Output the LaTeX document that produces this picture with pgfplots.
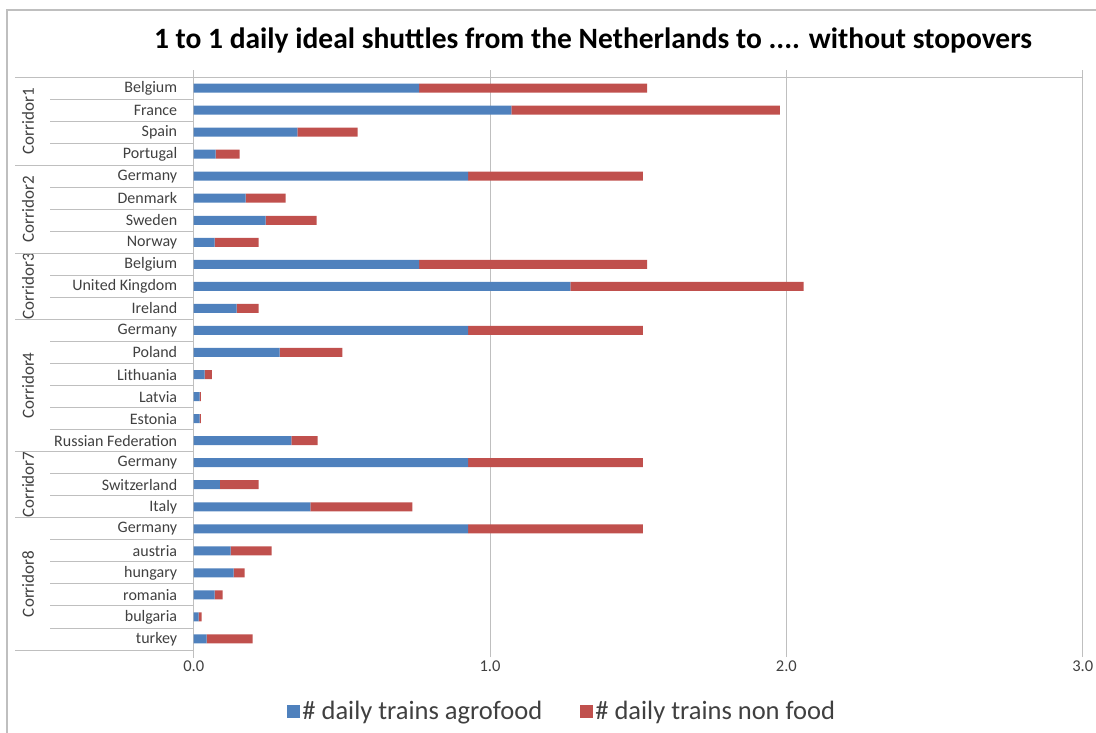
\documentclass[border=0pt]{standalone}
\usepackage{pgfplots}
\pgfplotsset{compat=1.18}
\usetikzlibrary{calc}
\usepackage{fontspec}
\setmainfont{Carlito}
\definecolor{cblue}{HTML}{4F81BD}
\definecolor{cred}{HTML}{C0504D}
\definecolor{lgray}{HTML}{BFBFBF}
\definecolor{tgray}{HTML}{404040}
\begin{document}
\begin{tikzpicture}[x=1pt,y=1pt]
\useasboundingbox (0,0) rectangle (1096,-733);
\draw[lgray,line width=1.2pt] (7,-733) -- (7,-10) -- (1096,-10);
\node[font=\fontsize{29.5}{33}\selectfont\bfseries] at (593,-40) {1 to 1 daily ideal shuttles from the Netherlands to .... without stopovers};
\begin{axis}[
  at={(193.7pt,-77pt)}, anchor=north west,
  scale only axis, width=889pt, height=573pt,
  xbar stacked, bar width=9pt,
  xmin=0, xmax=3, ymin=0.5, ymax=26.5, y dir=reverse,
  axis line style={draw=none},
  xtick={0,1,2,3},
  xticklabels={0.0,1.0,2.0,3.0},
  xmajorgrids, grid style={lgray, line width=0.9pt},
  xtick style={lgray, line width=0.9pt}, major tick length=7pt, tick align=outside,
  x tick label style={font=\fontsize{16.5}{18}\selectfont, text=tgray},
  ytick={1,...,26},
  ytick style={draw=none},
  yticklabels={Belgium,France,Spain,Portugal,Germany,Denmark,Sweden,Norway,Belgium,United Kingdom,Ireland,Germany,Poland,Lithuania,Latvia,Estonia,Russian Federation,Germany,Switzerland,Italy,Germany,austria,hungary,romania,bulgaria,turkey},
  y tick label style={font=\fontsize{16}{18}\selectfont, text=tgray, xshift=-6pt},
  clip=false,
  legend columns=2,
  legend style={at={(0.4146,-0.1065)}, anchor=center, draw=none, font=\fontsize{26.5}{29}\selectfont, text=tgray,
    /tikz/every even column/.append style={column sep=36pt}},
  legend image code/.code={\fill[#1] (0pt,-6.5pt) rectangle (13pt,6.5pt);},
]
\addplot[fill=cblue, draw=none] coordinates {
(0.761,1) (1.072,2) (0.350,3) (0.074,4)
(0.926,5) (0.175,6) (0.243,7) (0.071,8)
(0.761,9) (1.271,10) (0.145,11)
(0.926,12) (0.290,13) (0.037,14) (0.020,15) (0.020,16) (0.330,17)
(0.926,18) (0.088,19) (0.394,20)
(0.926,21) (0.125,22) (0.135,23) (0.071,24) (0.017,25) (0.044,26)};
\addlegendentry{\# daily trains agrofood}
\addplot[fill=cred, draw=none] coordinates {
(0.769,1) (0.906,2) (0.203,3) (0.081,4)
(0.590,5) (0.135,6) (0.172,7) (0.148,8)
(0.769,9) (0.787,10) (0.074,11)
(0.590,12) (0.212,13) (0.024,14) (0.004,15) (0.004,16) (0.088,17)
(0.590,18) (0.131,19) (0.344,20)
(0.590,21) (0.138,22) (0.037,23) (0.027,24) (0.010,25) (0.155,26)};
\addlegendentry{\# daily trains non food}
% frame lines of the plot
\draw[lgray, line width=0.9pt] ($(axis cs:0,0.5)+(-178.7pt,0pt)$) -- (axis cs:3,0.5) -- (axis cs:3,26.5);
\draw[lgray, line width=0.9pt] (axis cs:0,0.5) -- (axis cs:0,26.5) -- ++(0pt,-8pt);
% group separators
\pgfplotsinvokeforeach{4.5,8.5,11.5,17.5,20.5,26.5}{
  \draw[lgray, line width=0.9pt] (axis cs:0,#1) -- ++(-178.7pt,0pt);
}
\pgfplotsinvokeforeach{1.5,2.5,3.5,5.5,6.5,7.5,9.5,10.5,12.5,13.5,14.5,15.5,16.5,18.5,19.5,21.5,22.5,23.5,24.5,25.5}{
  \draw[lgray, line width=0.9pt] (axis cs:0,#1) -- ++(-143.7pt,0pt);
}
% group labels
\node[rotate=90, font=\fontsize{17}{19}\selectfont, text=tgray] at ($(axis cs:0,2.5)+(-165.7pt,0pt)$) {Corridor1};
\node[rotate=90, font=\fontsize{17}{19}\selectfont, text=tgray] at ($(axis cs:0,6.5)+(-165.7pt,0pt)$) {Corridor2};
\node[rotate=90, font=\fontsize{17}{19}\selectfont, text=tgray] at ($(axis cs:0,10)+(-165.7pt,0pt)$) {Corridor3};
\node[rotate=90, font=\fontsize{17}{19}\selectfont, text=tgray] at ($(axis cs:0,14.5)+(-165.7pt,0pt)$) {Corridor4};
\node[rotate=90, font=\fontsize{17}{19}\selectfont, text=tgray] at ($(axis cs:0,19)+(-165.7pt,0pt)$) {Corridor7};
\node[rotate=90, font=\fontsize{17}{19}\selectfont, text=tgray] at ($(axis cs:0,23.5)+(-165.7pt,0pt)$) {Corridor8};
\end{axis}
\end{tikzpicture}
\end{document}
